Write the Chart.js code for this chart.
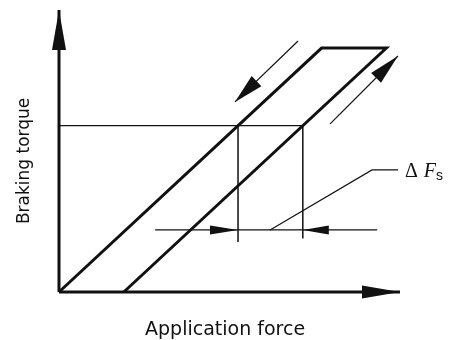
<!DOCTYPE html>
<html>
<head>
<meta charset="utf-8">
<script src="https://cdn.jsdelivr.net/npm/chart.js@4/dist/chart.umd.min.js"></script>
<style>
  html, body { margin: 0; padding: 0; background: #fff; }
  #wrap { width: 458px; height: 340px; position: relative; }
</style>
</head>
<body>
<div id="wrap"><canvas id="c"></canvas></div>
<script>
// Hystérésis du couple de freinage en fonction de la force d'application
// Unités arbitraires : force 0..100, couple 0..100

// ── Données ───────────────────────────────────────────────────────────────────
const X_TITLE = 'Application force';
const Y_TITLE = 'Braking torque';

const AXIS_X = [{ x: 0, y: 0 }, { x: 100, y: 0 }];
const AXIS_Y = [{ x: 0, y: 0 }, { x: 0, y: 100 }];

// boucle : montée (gauche), palier haut, descente (droite)
const LOOP = [
  { x: 0, y: 0 }, { x: 77, y: 86.5 }, { x: 96, y: 86.5 }, { x: 19, y: 0 },
];

// niveau de couple de référence et projections
const LEVEL      = [{ x: 0, y: 59 }, { x: 71.5, y: 59 }];
const DROP_LEFT  = [{ x: 52.5, y: 59 }, { x: 52.5, y: 17.7 }];
const DROP_RIGHT = [{ x: 71.5, y: 59 }, { x: 71.5, y: 19 }];

// cote ΔFs
const DIM_LEFT  = [{ x: 28.2, y: 22 }, { x: 52.5, y: 22 }];
const DIM_MID   = [{ x: 52.5, y: 22 }, { x: 71.5, y: 22 }];
const DIM_RIGHT = [{ x: 93.3, y: 22 }, { x: 71.5, y: 22 }];
const LEADER    = [{ x: 61.9, y: 22 }, { x: 91.8, y: 43.3 }, { x: 99.4, y: 43.3 }];

// flèches de sens de parcours
const DIR_DOWN = [{ x: 70.1, y: 89 }, { x: 51.6, y: 67.4 }];
const DIR_UP   = [{ x: 79.5, y: 59.6 }, { x: 99.4, y: 83.7 }];

const INK = '#111';

// ── Helpers ───────────────────────────────────────────────────────────────────
function seg(data, width, head) {
  return {
    data,
    showLine: true,
    borderColor: INK,
    borderWidth: width,
    borderJoinStyle: 'miter',
    pointRadius: 0,
    fill: false,
    clip: false,
    head, // [longueur, demi-largeur] de la pointe, en px
  };
}

// Pointes de flèches au dernier point des datasets qui en ont une
const arrowHeads = {
  id: 'arrowHeads',
  afterDatasetsDraw(chart) {
    const ctx = chart.ctx;
    chart.data.datasets.forEach((ds, i) => {
      if (!ds.head) return;
      const pts = chart.getDatasetMeta(i).data;
      const tip = pts[pts.length - 1];
      const from = pts[pts.length - 2];
      const ang = Math.atan2(tip.y - from.y, tip.x - from.x);
      const [len, half] = ds.head;
      ctx.save();
      ctx.translate(tip.x, tip.y);
      ctx.rotate(ang);
      ctx.beginPath();
      ctx.moveTo(0, 0);
      ctx.lineTo(-len, -half);
      ctx.lineTo(-len, half);
      ctx.closePath();
      ctx.fillStyle = INK;
      ctx.fill();
      ctx.restore();
    });
  },
};

// Titres d'axes et libellé ΔFs
const labels = {
  id: 'labels',
  afterDraw(chart) {
    const { ctx, chartArea: a, scales: { x, y } } = chart;
    ctx.save();
    ctx.fillStyle = INK;
    ctx.textBaseline = 'alphabetic';

    ctx.font = '19px "DejaVu Sans"';
    ctx.textAlign = 'center';
    ctx.fillText(X_TITLE, x.getPixelForValue(48.7), a.bottom + 43);

    ctx.save();
    ctx.translate(a.left - 30, y.getPixelForValue(46.5));
    ctx.rotate(-Math.PI / 2);
    ctx.font = '17px "DejaVu Sans"';
    ctx.fillText(Y_TITLE, 0, 0);
    ctx.restore();

    const end = LEADER[LEADER.length - 1];
    let px = x.getPixelForValue(end.x) + 7;
    const py = y.getPixelForValue(end.y) + 7;
    ctx.textAlign = 'left';
    ctx.font = '20px "Liberation Serif"';
    ctx.fillText('Δ', px, py);
    px += ctx.measureText('Δ ').width + 1;
    ctx.font = 'italic 20px "Liberation Serif"';
    ctx.fillText('F', px, py);
    px += ctx.measureText('F').width;
    ctx.font = '14px "Liberation Sans"';
    ctx.fillText('s', px, py + 3);
    ctx.restore();
  },
};

// ── Graphique ─────────────────────────────────────────────────────────────────
new Chart(document.getElementById('c'), {
  type: 'scatter',
  data: {
    datasets: [
      seg(AXIS_X, 3, [38, 6.5]),
      seg(AXIS_Y, 3, [40, 7]),
      seg(LOOP, 3),
      seg(LEVEL, 1.2),
      seg(DROP_LEFT, 1.5),
      seg(DROP_RIGHT, 1.5),
      seg(DIM_LEFT, 1.2, [28, 4.5]),
      seg(DIM_MID, 1.2),
      seg(DIM_RIGHT, 1.2, [26, 4.5]),
      seg(LEADER, 1.2),
      seg(DIR_DOWN, 1.2, [30, 7]),
      seg(DIR_UP, 1.2, [31, 7]),
    ],
  },
  options: {
    responsive: true,
    maintainAspectRatio: false,
    animation: false,
    events: [],
    layout: { padding: { left: 59, right: 58, top: 10, bottom: 48 } },
    plugins: { legend: { display: false }, tooltip: { enabled: false } },
    scales: {
      x: { type: 'linear', min: 0, max: 100, display: false },
      y: { type: 'linear', min: 0, max: 100, display: false },
    },
  },
  plugins: [arrowHeads, labels],
});
</script>
</body>
</html>
